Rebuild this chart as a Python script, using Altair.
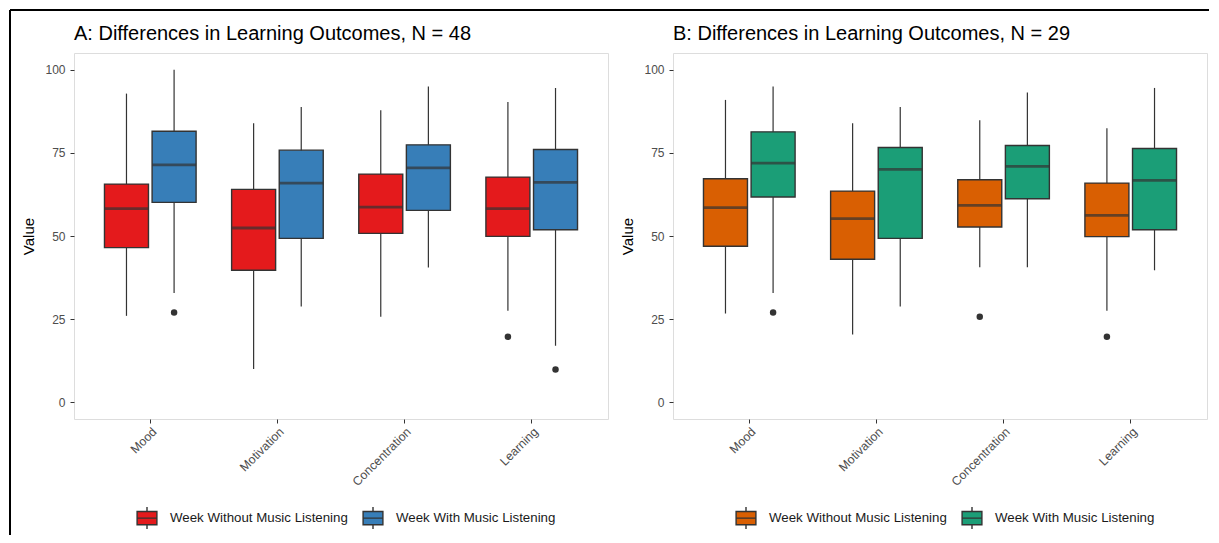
import altair as alt
import pandas as pd

categories = ["Mood", "Motivation", "Concentration", "Learning"]
groups = ["Week Without Music Listening", "Week With Music Listening"]

# Panel A (N = 48)
a_without_low = [26.0, 10.0, 25.7, 27.5]
a_without_q1 = [46.5, 39.7, 50.8, 49.9]
a_without_med = [58.2, 52.4, 58.7, 58.2]
a_without_q3 = [65.6, 64.0, 68.6, 67.7]
a_without_high = [92.8, 83.9, 87.8, 90.3]

a_with_low = [32.9, 28.8, 40.5, 17.0]
a_with_q1 = [60.1, 49.3, 57.7, 51.9]
a_with_med = [71.4, 65.9, 70.5, 66.1]
a_with_q3 = [81.5, 75.8, 77.4, 76.0]
a_with_high = [100.0, 88.8, 94.9, 94.5]

a_out_cat = ["Mood", "Learning", "Learning"]
a_out_group = [groups[1], groups[0], groups[1]]
a_out_val = [27.0, 19.7, 9.9]

# Panel B (N = 29)
b_without_low = [26.7, 20.4, 40.6, 27.5]
b_without_q1 = [46.9, 43.0, 52.7, 49.8]
b_without_med = [58.5, 55.2, 59.2, 56.2]
b_without_q3 = [67.2, 63.5, 66.9, 65.9]
b_without_high = [90.9, 83.9, 84.8, 82.4]

b_with_low = [32.9, 28.8, 40.6, 39.7]
b_with_q1 = [61.7, 49.3, 61.2, 51.9]
b_with_med = [71.9, 70.0, 70.9, 66.7]
b_with_q3 = [81.3, 76.6, 77.2, 76.3]
b_with_high = [94.9, 88.8, 93.1, 94.5]

b_out_cat = ["Mood", "Concentration", "Learning"]
b_out_group = [groups[1], groups[0], groups[0]]
b_out_val = [27.0, 25.7, 19.7]

titles = ["A: Differences in Learning Outcomes, N = 48",
          "B: Differences in Learning Outcomes, N = 29"]

colors_a = ["#E41A1C", "#377EB8"]
colors_b = ["#D95F02", "#1B9E77"]

FONT = "Liberation Sans"
BOX_PATH = "M-0.9,-0.6H0.9V0.6H-0.9Z M-0.9,0H0.9 M0,-1V-0.6 M0,0.6V1"
W, H = 534, 366


def stats_frame(without, with_):
    rows = []
    for g, s in zip(groups, [without, with_]):
        low, q1, med, q3, high = s
        for i, c in enumerate(categories):
            rows.append(dict(category=c, group=g, low=low[i], q1=q1[i],
                             med=med[i], q3=q3[i], high=high[i]))
    return pd.DataFrame(rows)


def panel(stats, out, colors, title, frame_left):
    x = alt.X("category:N", sort=categories,
              scale=alt.Scale(paddingInner=0, paddingOuter=0.1),
              axis=alt.Axis(title=None, labelAngle=-45, labelFontSize=12.3,
                            labelColor="#4D4D4D", labelFont=FONT, labelLimit=0,
                            tickColor="#333333", tickSize=4, domain=False,
                            labelPadding=2))
    xo = alt.XOffset("group:N", sort=groups,
                     scale=alt.Scale(domain=groups, paddingInner=0, paddingOuter=0.335))
    yscale = alt.Scale(domain=[-5, 105], nice=False, zero=False)
    yaxis = alt.Axis(title="Value", values=[0, 25, 50, 75, 100], grid=False,
                     domain=False, tickColor="#333333", tickSize=4,
                     labelFontSize=12, labelColor="#4D4D4D", labelFont=FONT,
                     labelPadding=5,
                     titleFontSize=15, titleFont=FONT, titleColor="#000000",
                     titleFontWeight="normal", titlePadding=8)
    base = alt.Chart(stats)
    whisker = base.mark_rule(color="#333333", strokeWidth=1.2).encode(
        x=x, xOffset=xo,
        y=alt.Y("low:Q", scale=yscale, axis=yaxis), y2="high:Q")
    box = base.mark_bar(width=44, stroke="#333333", strokeWidth=1.4).encode(
        x=x, xOffset=xo, y=alt.Y("q1:Q", scale=yscale), y2="q3:Q",
        color=alt.Color("group:N", sort=groups,
                        scale=alt.Scale(domain=groups, range=colors),
                        legend=alt.Legend(title=None, orient="none",
                                          direction="horizontal",
                                          legendX=61, legendY=453,
                                          symbolType=BOX_PATH, symbolSize=484,
                                          symbolStrokeColor="#333333",
                                          symbolStrokeWidth=1.4,
                                          symbolOpacity=1, labelLimit=0,
                                          labelFontSize=13.3, labelFont=FONT,
                                          labelColor="#1A1A1A", labelOffset=11,
                                          columnPadding=12, padding=0)))
    median = base.mark_tick(color="#333333", thickness=2.8, size=44).encode(
        x=x, xOffset=xo, y=alt.Y("med:Q", scale=yscale))
    pts = alt.Chart(out).mark_circle(color="#333333", size=42, opacity=1).encode(
        x=x, xOffset=xo, y=alt.Y("value:Q", scale=yscale))

    fr = alt.Chart(pd.DataFrame({"k": [0]}))
    head = fr.mark_text(text=title, align="left", baseline="alphabetic",
                        fontSize=20, font=FONT, color="#000000").encode(
        x=alt.value(0), y=alt.value(-13))
    layers = [whisker, box, median, pts, head]
    # figure frame: black line along the top and left edge of the figure
    if frame_left:
        layers.append(fr.mark_rule(color="#000000", strokeWidth=2).encode(
            x=alt.value(-64), y=alt.value(-43), y2=alt.value(482)))
        layers.append(fr.mark_rule(color="#000000", strokeWidth=2).encode(
            x=alt.value(-64), x2=alt.value(W), y=alt.value(-43)))
    else:
        layers.append(fr.mark_rule(color="#000000", strokeWidth=2).encode(
            x=alt.value(-66), x2=alt.value(W + 2), y=alt.value(-43)))
    return alt.layer(*layers).properties(width=W, height=H)


stats_a = stats_frame([a_without_low, a_without_q1, a_without_med, a_without_q3, a_without_high],
                      [a_with_low, a_with_q1, a_with_med, a_with_q3, a_with_high])
stats_b = stats_frame([b_without_low, b_without_q1, b_without_med, b_without_q3, b_without_high],
                      [b_with_low, b_with_q1, b_with_med, b_with_q3, b_with_high])
out_a = pd.DataFrame(dict(category=a_out_cat, group=a_out_group, value=a_out_val))
out_b = pd.DataFrame(dict(category=b_out_cat, group=b_out_group, value=b_out_val))

left = panel(stats_a, out_a, colors_a, titles[0], True)
right = panel(stats_b, out_b, colors_b, titles[1], False)

chart = alt.hconcat(left, right, spacing=-5).resolve_scale(
    color="independent", x="independent", y="independent", xOffset="independent"
).configure_view(stroke="#555555", strokeWidth=1).configure(
    padding={"left": 0, "top": 0, "right": 0, "bottom": 0}
)

chart.save("out.html", embed_options={"renderer": "svg", "actions": False})
